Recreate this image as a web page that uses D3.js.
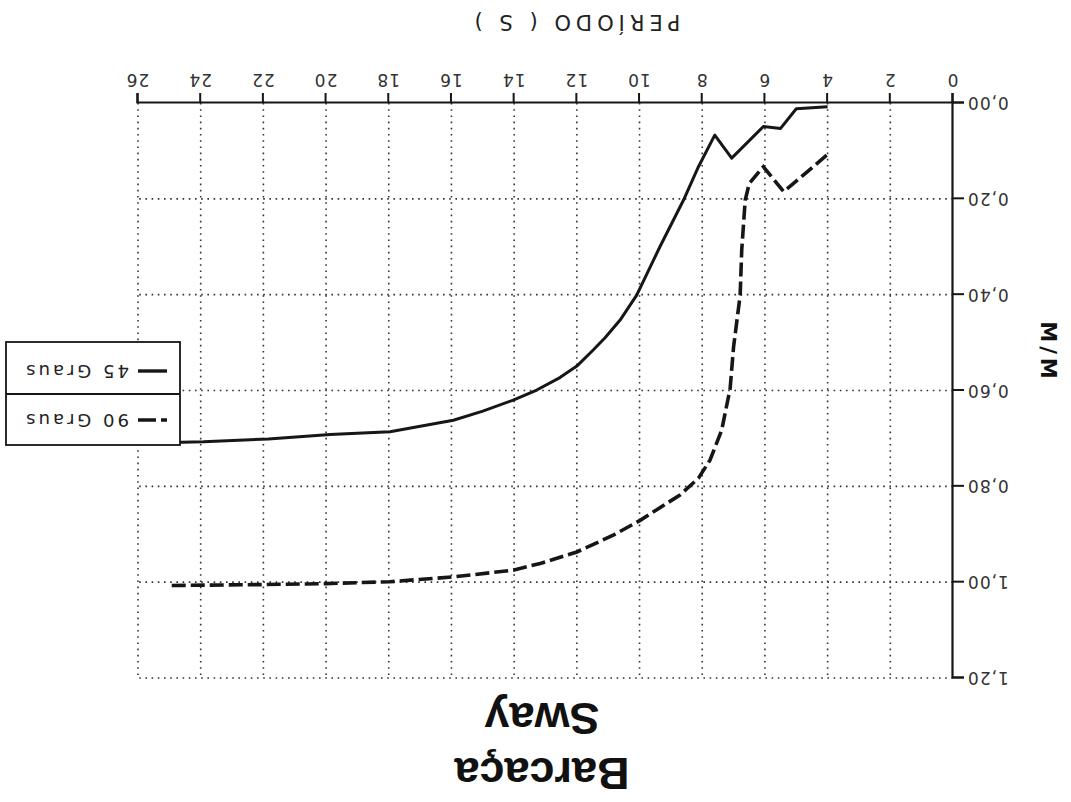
<!DOCTYPE html>
<html>
<head>
<meta charset="utf-8">
<title>Barcaça Sway</title>
<script src="https://cdn.jsdelivr.net/npm/d3@7/dist/d3.min.js"></script>
<style>
  body { margin: 0; background: #fff; }
  svg { display: block; }
</style>
</head>
<body>
<svg id="chart" width="1071" height="802"></svg>
<script>
// dados (período em s, resposta M/M)
var periodo45 = [4.0, 5.0, 5.5, 6.05, 7.06, 7.6, 8.12, 8.6, 9.35, 10.09, 10.62, 11.1, 11.47, 12.0, 12.54, 13.28, 14.03, 15.0, 15.94, 17.96, 19.87, 21.84, 23.91, 26.0];
var mm45      = [0.008, 0.012, 0.053, 0.049, 0.115, 0.067, 0.133, 0.203, 0.300, 0.401, 0.453, 0.490, 0.515, 0.549, 0.573, 0.599, 0.620, 0.643, 0.662, 0.686, 0.692, 0.701, 0.707, 0.710];

var periodo90 = [4.03, 5.4, 6.05, 6.5, 6.63, 6.74, 6.79, 7.0, 7.11, 7.38, 7.75, 8.12, 8.71, 9.98, 10.84, 12.0, 13.17, 14.03, 15.94, 17.96, 20.0, 22.0, 24.97];
var mm90      = [0.109, 0.185, 0.133, 0.168, 0.203, 0.307, 0.401, 0.509, 0.596, 0.683, 0.745, 0.783, 0.818, 0.871, 0.902, 0.937, 0.961, 0.975, 0.989, 0.999, 1.003, 1.005, 1.007];

var xTicks = [0, 2, 4, 6, 8, 10, 12, 14, 16, 18, 20, 22, 24, 26];
var yTicks = [0, 0.2, 0.4, 0.6, 0.8, 1.0, 1.2];
var yTickLabels = ["0,00", "0,20", "0,40", "0,60", "0,80", "1,00", "1,20"];
var seriesNames = ["90 Graus", "45 Graus"];

var W = 1071, H = 802;
var plotL = 118, plotR = 933, plotT = 124, plotB = 699;
var ink = "#161616";
var fontTxt = "'DejaVu Sans', sans-serif";

var svg = d3.select("#chart");
// a figura original está de cabeça para baixo
var root = svg.append("g").attr("transform", "rotate(180," + W / 2 + "," + H / 2 + ")");

var x = d3.scaleLinear().domain([0, 26]).range([plotL, plotR]);
var y = d3.scaleLinear().domain([0, 1.2]).range([plotB, plotT]);

// grade pontilhada
root.append("g").selectAll("line")
    .data(xTicks.filter(function(d){ return d > 0; }))
    .enter().append("line")
    .attr("x1", function(d){ return x(d); })
    .attr("x2", function(d){ return x(d); })
    .attr("y1", y(0)).attr("y2", y(1.2))
    .attr("stroke", "#333").attr("stroke-width", 1.6)
    .attr("stroke-dasharray", "1.6,4.6");
root.append("g").selectAll("line")
    .data(yTicks.filter(function(d){ return d > 0; }))
    .enter().append("line")
    .attr("y1", function(d){ return y(d); })
    .attr("y2", function(d){ return y(d); })
    .attr("x1", x(0)).attr("x2", x(26))
    .attr("stroke", "#333").attr("stroke-width", 1.6)
    .attr("stroke-dasharray", "1.6,4.6");

// eixos
var xAxis = d3.axisBottom(x).tickValues(xTicks).tickSize(10).tickPadding(7)
    .tickFormat(function(d){ return String(d); });
var gx = root.append("g").attr("transform", "translate(0," + plotB + ")").call(xAxis);
var yAxis = d3.axisLeft(y).tickValues(yTicks).tickSize(11).tickPadding(3)
    .tickFormat(function(d, i){ return yTickLabels[i]; });
var gy = root.append("g").attr("transform", "translate(" + plotL + ",0)").call(yAxis);

[gx, gy].forEach(function(g){
    g.select(".domain").attr("stroke", ink).attr("stroke-width", 2.2);
    g.selectAll(".tick line").attr("stroke", ink).attr("stroke-width", 2);
    g.selectAll(".tick text").attr("fill", "#333")
        .style("font-family", fontTxt).style("font-size", "17px")
        .style("letter-spacing", "1px");
});

// curvas
var line = d3.line()
    .x(function(d){ return x(d[0]); })
    .y(function(d){ return y(d[1]); });

root.append("path")
    .datum(d3.zip(periodo45, mm45))
    .attr("d", line)
    .attr("fill", "none").attr("stroke", ink).attr("stroke-width", 3)
    .attr("stroke-linejoin", "round");

root.append("path")
    .datum(d3.zip(periodo90, mm90))
    .attr("d", line)
    .attr("fill", "none").attr("stroke", ink).attr("stroke-width", 3.6)
    .attr("stroke-dasharray", "14,5");

// legenda
var lg = root.append("g").attr("transform", "translate(891,357)");
lg.append("rect").attr("width", 174).attr("height", 103)
    .attr("fill", "#fff").attr("stroke", ink).attr("stroke-width", 1.8);
lg.append("line").attr("x1", 0).attr("x2", 174).attr("y1", 51).attr("y2", 51)
    .attr("stroke", ink).attr("stroke-width", 1.8);
lg.selectAll("g.item")
    .data(seriesNames)
    .enter().append("g")
    .attr("class", "item")
    .attr("transform", function(d, i){ return "translate(0," + (25 + i * 49) + ")"; })
    .each(function(d, i){
        var g = d3.select(this);
        g.append("line").attr("x1", 13).attr("x2", 42).attr("y1", 0).attr("y2", 0)
            .attr("stroke", ink).attr("stroke-width", 3.4)
            .attr("stroke-dasharray", i === 0 ? "6,5,18" : null);
        g.append("text").attr("x", 51).attr("y", 0).attr("dy", "0.35em")
            .attr("fill", "#222")
            .style("font-family", fontTxt).style("font-size", "18px")
            .style("letter-spacing", "3px")
            .text(d);
    });

// títulos
root.append("text")
    .attr("x", 529).attr("y", 44).attr("text-anchor", "middle")
    .attr("fill", "#111")
    .style("font-family", "'Liberation Sans', Arial, sans-serif")
    .style("font-weight", "bold").style("font-size", "45px")
    .text("Barcaça");
root.append("text")
    .attr("x", 529).attr("y", 99).attr("text-anchor", "middle")
    .attr("fill", "#111")
    .style("font-family", "'Liberation Sans', Arial, sans-serif")
    .style("font-weight", "bold").style("font-size", "45px")
    .text("Sway");

root.append("text")
    .attr("x", 496).attr("y", 787).attr("text-anchor", "middle")
    .attr("fill", "#222")
    .style("font-family", fontTxt).style("font-size", "21px")
    .style("letter-spacing", "5px")
    .text("PERÍODO ( S )");

root.append("text")
    .attr("transform", "translate(23," + (H - 352) + ") rotate(-90)")
    .attr("text-anchor", "middle").attr("dy", "0.35em")
    .attr("fill", "#111")
    .style("font-family", fontTxt).style("font-weight", "bold")
    .style("font-size", "21px").style("letter-spacing", "4px")
    .text("M/M");
</script>
</body>
</html>
